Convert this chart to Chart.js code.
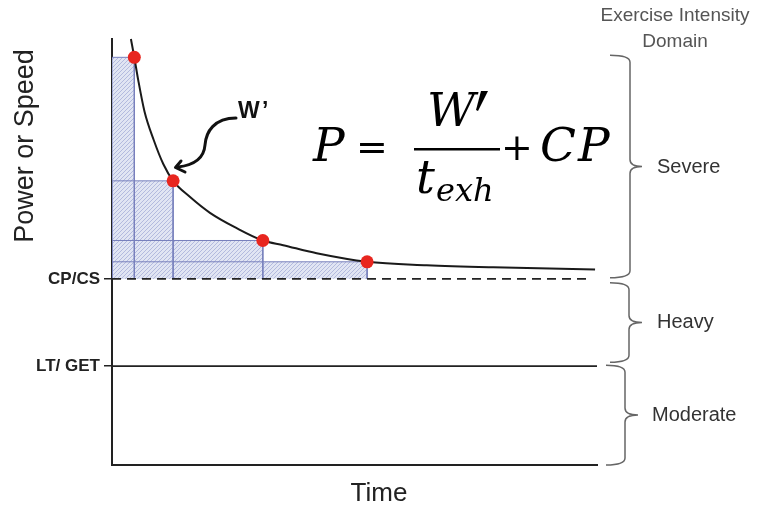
<!DOCTYPE html>
<html>
<head>
<meta charset="utf-8">
<script src="https://cdn.jsdelivr.net/npm/chart.js@4.4.0/dist/chart.umd.min.js"></script>
<style>
  html, body { margin: 0; padding: 0; background: #fff; }
</style>
</head>
<body>
<canvas id="cpChart" width="762" height="506"></canvas>
<script>
// power-duration curve (arbitrary units, 0-100 on both axes)
const curveTime  = [3.9, 4.6, 5.4, 6.7, 8.6, 10.6, 12.6, 16.1, 20.2, 25.7, 31.1, 35.3, 42.2, 52.6, 64.9, 78.6, 99.6];
const curvePower = [100, 95.7, 90.4, 83.0, 76.3, 70.6, 66.7, 62.9, 59.2, 55.6, 52.7, 51.6, 49.7, 47.7, 46.9, 46.4, 45.9];

// the four exhaustive trials (red dots)
const testTime  = [4.6, 12.6, 31.1, 52.6];
const testPower = [95.7, 66.7, 52.7, 47.7];

// thresholds
const CP = 43.7;
const LT = 23.2;
const cpLineEnd = 98.6;
const yTickValues = [LT, CP];
const yTickLabels = ['LT/ GET', 'CP/CS'];
const domainLabels = ['Severe', 'Heavy', 'Moderate'];

const ctx = document.getElementById('cpChart').getContext('2d');

// hatched fill for the W' rectangles
function makeHatch() {
  const c = document.createElement('canvas');
  c.width = 4; c.height = 4;
  const g = c.getContext('2d');
  g.fillStyle = '#e1e5f3';
  g.fillRect(0, 0, 4, 4);
  g.strokeStyle = '#b3bade';
  g.lineWidth = 1;
  g.beginPath();
  g.moveTo(0, 4); g.lineTo(4, 0);
  g.moveTo(-1, 1); g.lineTo(1, -1);
  g.moveTo(3, 5); g.lineTo(5, 3);
  g.stroke();
  return ctx.createPattern(c, 'repeat');
}
const hatch = makeHatch();

const rectSets = testTime.map((t, i) => ({
  data: [{x: 0, y: CP}, {x: 0, y: testPower[i]}, {x: t, y: testPower[i]}, {x: t, y: CP}],
  borderColor: '#7880bd',
  borderWidth: 1,
  backgroundColor: hatch,
  fill: {value: CP},
  pointRadius: 0,
  tension: 0,
  order: 5
}));

function brace(c, xv, top, bottom, tipX, startX) {
  const mid = (top + bottom) / 2;
  const r = 7;
  c.beginPath();
  c.moveTo(startX, top);
  c.quadraticCurveTo(xv, top, xv, top + r);
  c.lineTo(xv, mid - r);
  c.quadraticCurveTo(xv, mid, tipX, mid);
  c.moveTo(xv, mid + r);
  c.quadraticCurveTo(xv, mid, tipX, mid);
  c.moveTo(xv, mid + r);
  c.lineTo(xv, bottom - r);
  c.quadraticCurveTo(xv, bottom, startX, bottom);
  c.stroke();
}

const annotations = {
  id: 'annotations',
  afterDraw(chart) {
    const c = chart.ctx;
    const ys = chart.scales.y;
    c.save();

    // axis titles
    c.fillStyle = '#222';
    c.textAlign = 'center';
    c.textBaseline = 'alphabetic';
    c.font = '26px "Liberation Sans", Arial, sans-serif';
    c.fillText('Time', 379, 501);
    c.save();
    c.translate(33, 146);
    c.rotate(-Math.PI / 2);
    c.font = '27px "Liberation Sans", Arial, sans-serif';
    c.fillText('Power or Speed', 0, 0);
    c.restore();

    // domain header
    c.fillStyle = '#555';
    c.font = '19px "Liberation Sans", Arial, sans-serif';
    c.textBaseline = 'middle';
    c.fillText('Exercise Intensity', 675, 16);
    c.fillText('Domain', 675, 42);

    // braces + labels
    const cpPx = ys.getPixelForValue(CP);
    const ltPx = ys.getPixelForValue(LT);
    const topPx = ys.getPixelForValue(testPower[0]) - 2;
    const botPx = ys.getPixelForValue(0);
    c.strokeStyle = '#666';
    c.lineWidth = 1.5;
    brace(c, 630, topPx, cpPx - 1, 642, 610);
    brace(c, 629, cpPx + 4, ltPx - 4, 642, 610);
    brace(c, 625, ltPx - 1, botPx, 638, 606);
    c.fillStyle = '#333';
    c.font = '20px "Liberation Sans", Arial, sans-serif';
    c.textAlign = 'left';
    c.fillText(domainLabels[0], 657, (topPx + cpPx) / 2);
    c.fillText(domainLabels[1], 657, (cpPx + ltPx) / 2);
    c.fillText(domainLabels[2], 652, (ltPx + botPx) / 2);

    // equation
    c.fillStyle = '#000';
    c.textBaseline = 'alphabetic';
    c.textAlign = 'left';
    c.font = 'italic 47px "DejaVu Serif", serif';
    c.fillText('P', 313, 161);
    c.fillText('C', 540, 161);
    c.fillText('P', 578, 161);
    c.fillText('t', 416, 193);
    c.fillText('W', 427, 126);
    // prime mark
    c.beginPath();
    c.moveTo(481, 91);
    c.lineTo(488, 91);
    c.lineTo(478, 111);
    c.lineTo(476, 110);
    c.closePath();
    c.fill();
    c.font = '38px "DejaVu Serif", serif';
    c.textAlign = 'center';
    c.fillText('=', 372, 160);
    c.fillText('+', 517, 160);
    c.textAlign = 'left';
    c.font = 'italic 32px "DejaVu Serif", serif';
    c.fillText('exh', 436, 201);
    c.fillRect(414, 148, 86, 2.5);

    // W' label and arrow
    c.fillStyle = '#111';
    c.font = 'bold 23px "Liberation Sans", Arial, sans-serif';
    c.fillText('W', 238, 118);
    c.fillText('\u2019', 262, 118);
    c.strokeStyle = '#111';
    c.lineWidth = 3;
    c.lineCap = 'round';
    c.lineJoin = 'round';
    c.beginPath();
    c.moveTo(236, 118);
    c.bezierCurveTo(214, 118, 206, 132, 205, 145);
    c.bezierCurveTo(204, 158, 195, 165, 178, 167);
    c.stroke();
    c.beginPath();
    c.moveTo(181, 161);
    c.lineTo(175.5, 167.5);
    c.lineTo(185, 172);
    c.stroke();

    c.restore();
  }
};

new Chart(ctx, {
  type: 'line',
  data: {
    datasets: [
      {
        data: testTime.map((t, i) => ({x: t, y: testPower[i]})),
        showLine: false,
        pointRadius: 6.5,
        pointBackgroundColor: '#e8261f',
        pointBorderWidth: 0,
        order: 0
      },
      {
        data: curveTime.map((t, i) => ({x: t, y: curvePower[i]})),
        borderColor: '#1a1a1a',
        borderWidth: 2,
        cubicInterpolationMode: 'monotone',
        pointRadius: 0,
        clip: false,
        order: 1
      },
      {
        data: [{x: 0, y: CP}, {x: cpLineEnd, y: CP}],
        borderColor: '#222',
        borderWidth: 1.8,
        borderDash: [9, 6],
        pointRadius: 0,
        order: 2
      },
      {
        data: [{x: 0, y: LT}, {x: 100, y: LT}],
        borderColor: '#222',
        borderWidth: 1.6,
        pointRadius: 0,
        clip: false,
        order: 2
      },
      ...rectSets
    ]
  },
  options: {
    responsive: false,
    animation: false,
    layout: { padding: { top: 39, right: 165, left: 0, bottom: 0 } },
    plugins: {
      legend: { display: false },
      tooltip: { enabled: false },
      filler: { drawTime: 'beforeDatasetsDraw' }
    },
    scales: {
      x: {
        type: 'linear',
        min: 0,
        max: 100,
        ticks: { display: false },
        grid: { display: false },
        border: { color: '#222', width: 2 },
        afterFit: s => { s.height = 41; }
      },
      y: {
        min: 0,
        max: 100,
        afterBuildTicks: s => { s.ticks = yTickValues.map(v => ({ value: v })); },
        afterFit: s => { s.width = 112; },
        ticks: {
          autoSkip: false,
          padding: 4,
          color: '#222',
          font: { family: '"Liberation Sans", Arial, sans-serif', size: 17, weight: 'bold' },
          callback: v => yTickLabels[yTickValues.indexOf(v)]
        },
        grid: { drawOnChartArea: false, tickLength: 8, color: '#222', lineWidth: 1.5 },
        border: { color: '#222', width: 2 }
      }
    }
  },
  plugins: [annotations]
});
</script>
</body>
</html>
